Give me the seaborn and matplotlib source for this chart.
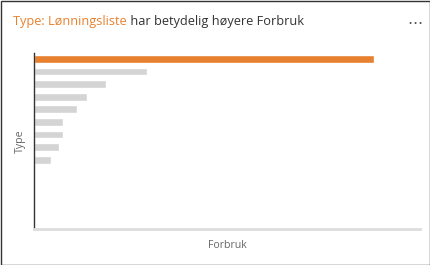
import matplotlib
matplotlib.use("Agg")
import matplotlib.pyplot as plt
import seaborn as sns
import pandas as pd
from matplotlib.patches import Rectangle

# Data (category names are hidden in the chart)
types = ["Lønningsliste", "Varekjøp", "Husleie", "Strøm", "Forsikring",
         "Reise", "Telefon", "Kontorrekvisita", "Diverse"]
forbruk = [340, 113, 72, 53, 43, 29, 29, 25, 17]
highlight = "Lønningsliste"

orange = "#E8812F"
grey_bar = "#D4D4D4"
colors = [orange if t == highlight else grey_bar for t in types]

df = pd.DataFrame({"Type": types, "Forbruk": forbruk})

sns.set_style("white")
plt.rcParams["font.family"] = ["Open Sans", "DejaVu Sans"]

fig = plt.figure(figsize=(4.3, 2.65), dpi=100)
ax = fig.add_axes([34 / 430, 1 - 229 / 265, 386 / 430, 176 / 265])

sns.barplot(data=df, x="Forbruk", y="Type", hue="Type", palette=colors,
            legend=False, width=0.63, orient="h", ax=ax, saturation=1)

ax.set_xlim(0, max(forbruk) * 386 / 340)
ax.set_ylim(13.5, -0.47)
ax.set_xticks([])
ax.set_yticks([])
ax.set_xlabel("Forbruk", color="#666666", fontsize=7.6, labelpad=8)
ax.set_ylabel("Type", color="#666666", fontsize=7.6, labelpad=6)

for side in ["top", "right"]:
    ax.spines[side].set_visible(False)
ax.spines["left"].set_color("#333333")
ax.spines["left"].set_linewidth(1)
ax.spines["bottom"].set_color("#DDDDDD")
ax.spines["bottom"].set_linewidth(2)

# title in two colours
title_y = 1 - 22 / 265
t1 = fig.text(13 / 430, title_y, "Type: Lønningsliste", color=orange,
              fontsize=9.2, va="center", ha="left")
fig.canvas.draw()
bb = t1.get_window_extent()
fig.text(bb.x1 / fig.bbox.width, title_y, " har betydelig høyere Forbruk",
         color="#333333", fontsize=9.2, va="center", ha="left")

fig.text(415 / 430, 1 - 19 / 265, "…", color="#555555", fontsize=11,
         ha="center", va="center", family="DejaVu Sans")

# card border
fig.patches.append(Rectangle((0.5 / 430, 0.5 / 265), 429 / 430, 264 / 265,
                             transform=fig.transFigure, fill=False,
                             edgecolor="#333333", linewidth=1))

fig.savefig("out.png", dpi=100)
